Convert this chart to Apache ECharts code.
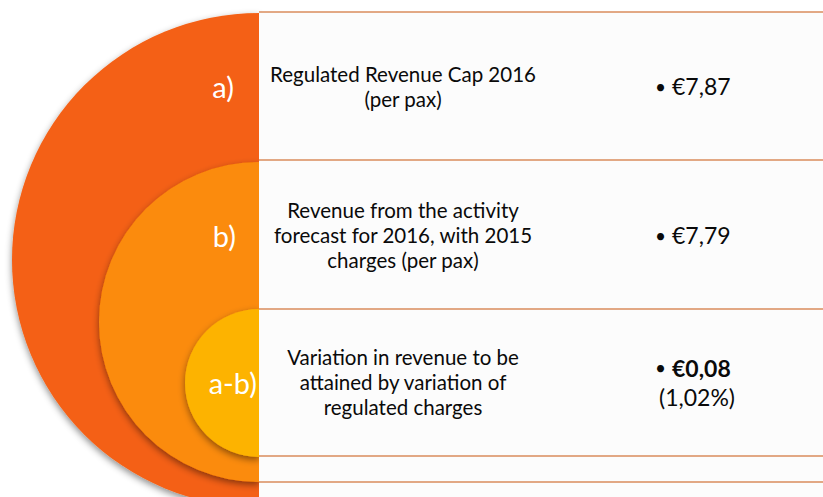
<!DOCTYPE html>
<html><head><meta charset="utf-8">
<script src="https://cdn.jsdelivr.net/npm/echarts@6/dist/echarts.min.js"></script>
<style>html,body{margin:0;padding:0;background:#fff}#c{width:823px;height:497px}</style>
</head><body><div id="c"></div>
<script>
// ---- data ----
const circleLabels = ['a)', 'b)', 'a-b)'];
const descriptions = [
  ['Regulated Revenue Cap 2016', '(per pax)'],
  ['Revenue from the activity', 'forecast for 2016, with 2015', 'charges (per pax)'],
  ['Variation in revenue to be', 'attained by variation of', 'regulated charges']
];
const values = ['€7,87', '€7,79', '€0,08'];
const valueNotes = ['', '', '(1,02%)'];
const circleColors = ['#F46014', '#FB8B0A', '#FDB300'];

// ---- layout ----
const cutX = 259;
const circles = [
  { cy: 260, r: 247 },
  { cy: 322, r: 160 },
  { cy: 383, r: 74 }
];
const rowLines = [12, 160, 309, 456, 482];
const rowCenters = [86, 235, 382];
const labelRight = [234, 236, 257];

const chart = echarts.init(document.getElementById('c'), null, { renderer: 'svg' });

const series = circles.map((c, i) => ({
  type: 'pie',
  silent: true,
  center: [cutX, c.cy],
  radius: [0, c.r],
  startAngle: 90,
  clockwise: true,
  z: 2 + i,
  label: { show: false },
  labelLine: { show: false },
  emphasis: { disabled: true },
  animation: false,
  data: [
    { value: 1, name: 'blank' + i, itemStyle: { color: 'rgba(0,0,0,0)', borderWidth: 0 } },
    { value: 1, name: circleLabels[i], itemStyle: {
        color: circleColors[i], borderWidth: 0,
        shadowBlur: 7, shadowColor: 'rgba(0,0,0,0.45)', shadowOffsetX: 0, shadowOffsetY: 3 } }
  ]
}));

const graphics = [];
const panelBounds = rowLines.concat([497]);
for (let i = 0; i < panelBounds.length - 1; i++) {
  graphics.push({ type: 'rect', z: 100, shape: { x: cutX, y: panelBounds[i], width: 823 - cutX, height: panelBounds[i + 1] - panelBounds[i] },
    style: { fill: '#FCFCFC' } });
}
rowLines.forEach(y => {
  graphics.push({ type: 'line', z: 101, shape: { x1: cutX, y1: y, x2: 823, y2: y }, style: { stroke: '#DA8C5C', lineWidth: 1.5 } });
});
circleLabels.forEach((t, i) => {
  graphics.push({ type: 'text', z: 110, x: labelRight[i], y: rowCenters[i],
    style: { text: t, fill: '#fff', font: '29px Lato', textAlign: 'right', textVerticalAlign: 'middle' } });
});
descriptions.forEach((lines, i) => {
  graphics.push({ type: 'text', z: 110, x: 403, y: rowCenters[i],
    style: { text: lines.join('\n'), fill: '#0a0a0a', font: '20.5px Lato', lineHeight: 25, textAlign: 'center', textVerticalAlign: 'middle' } });
});
values.forEach((v, i) => {
  const bold = i === 2;
  let txt = '{b|•}{' + (bold ? 'vb' : 'v') + '|' + v + '}';
  if (valueNotes[i]) txt += '\n{n|' + valueNotes[i] + '}';
  graphics.push({ type: 'text', z: 110, x: 655, y: rowCenters[i],
    style: { text: txt, textAlign: 'left', textVerticalAlign: 'middle',
      rich: {
        b: { fontSize: 19, fontFamily: 'Lato', fill: '#0a0a0a', lineHeight: 29, padding: [0, 6, 0, 0] },
        v: { fontSize: 23, fontFamily: 'Lato', fill: '#0a0a0a', lineHeight: 29 },
        vb: { fontSize: 23, fontFamily: 'Lato', fontWeight: 'bold', fill: '#0a0a0a', lineHeight: 29 },
        n: { fontSize: 23, fontFamily: 'Lato', fill: '#0a0a0a', lineHeight: 29, padding: [0, 0, 0, 4] }
      } } });
});

chart.setOption({ animation: false, series: series, graphic: graphics });
</script></body></html>
